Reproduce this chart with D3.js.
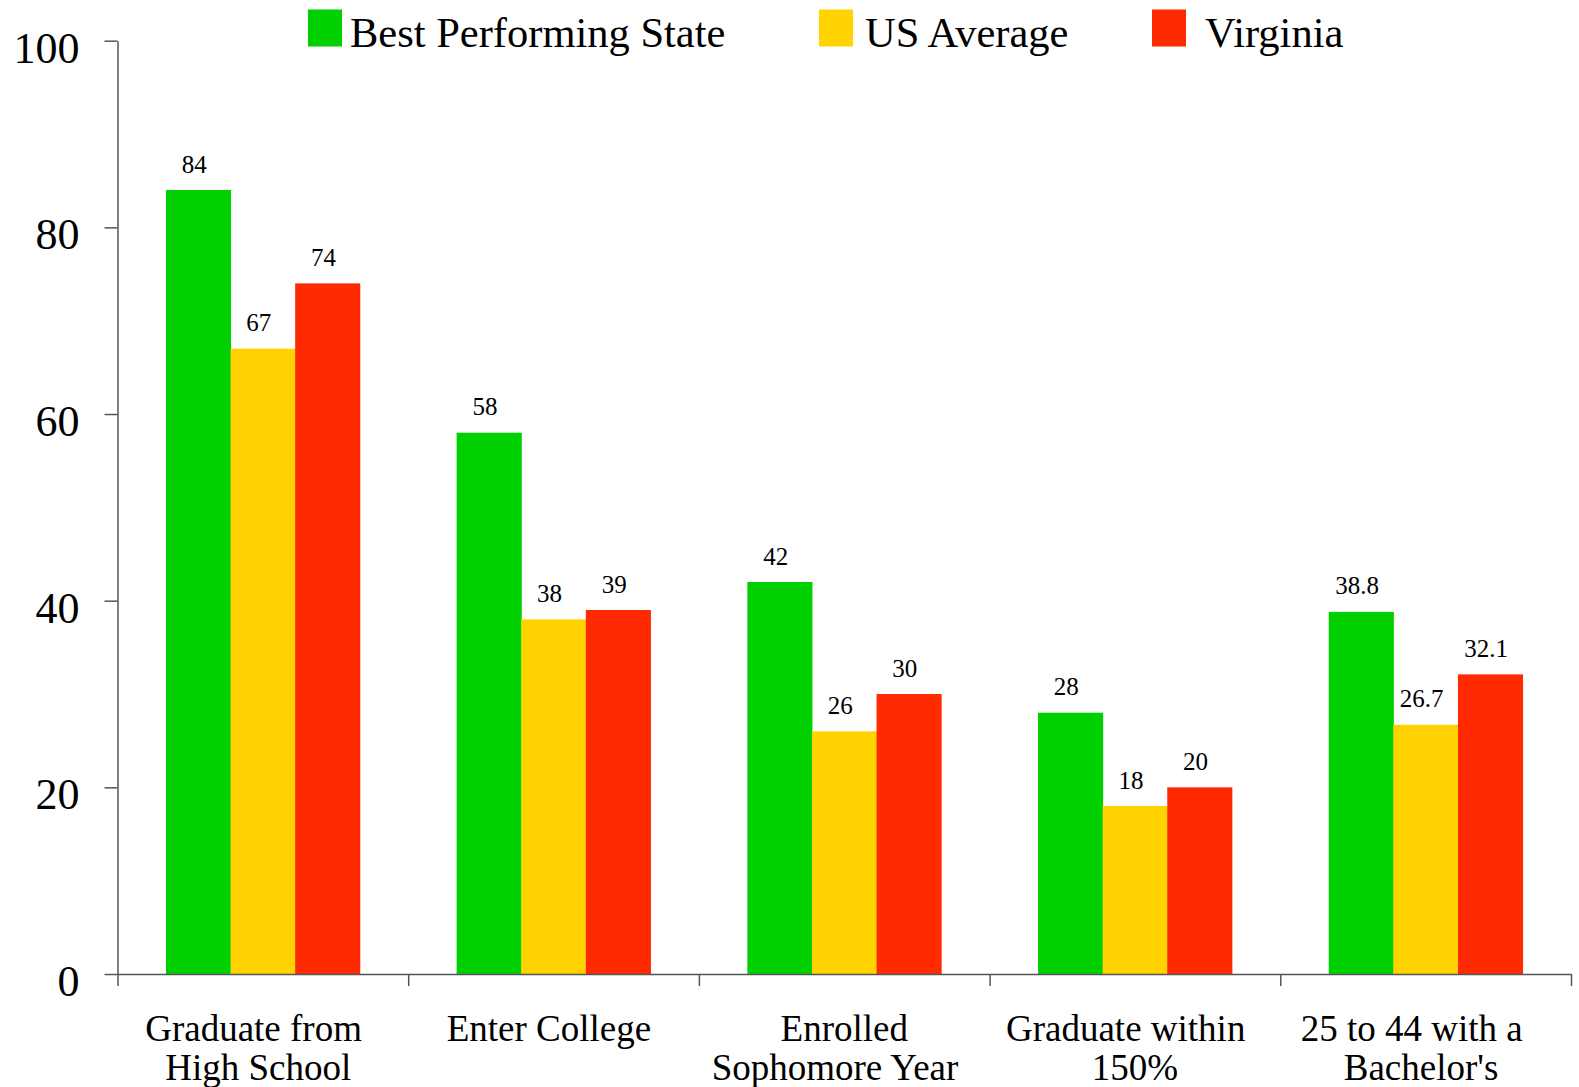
<!DOCTYPE html>
<html>
<head>
<meta charset="utf-8">
<script src="https://cdn.jsdelivr.net/npm/d3@7"></script>
<style>
  body { margin: 0; background: #fff; }
  text { font-family: "Liberation Serif", "Times New Roman", serif; fill: #000; }
  .cat text { white-space: pre; }
</style>
</head>
<body>
<svg id="chart"></svg>
<script>
// category labels, one array per label line (trailing spaces kept as in the source)
const categories = [
  ["Graduate from  ", "High School "],
  ["Enter College "],
  ["Enrolled", "Sophomore Year  "],
  ["Graduate within  ", "150%"],
  ["25 to 44 with a   ", "Bachelor's "]
]
const seriesNames = ["Best Performing State", "US Average", "Virginia"]
const bestState = [84, 58, 42, 28, 38.8]
const usAverage = [67, 38, 26, 18, 26.7]
const virginia = [74, 39, 30, 20, 32.1]
const yTicks = [0, 20, 40, 60, 80, 100]

const colors = ["#00d000", "#ffd200", "#ff2a00"]
const series = [bestState, usAverage, virginia]

const chart = {
  width: 1579,
  height: 1087,
  left: 117.5,
  right: 1571,
  top: 40.7,
  base: 974,
  axisColor: "#555"
}

const svg = d3.select("#chart")
  .attr("width", chart.width)
  .attr("height", chart.height)

const y = d3.scaleLinear().domain([0, 100]).range([chart.base, chart.top])
const x0 = d3.scaleBand()
  .domain(d3.range(categories.length))
  .range([chart.left, chart.right])
  .padding(0)
const step = x0.step()
const x1 = d3.scaleBand()
  .domain(d3.range(series.length))
  .range([step / 6, step * 5 / 6])
  .padding(0)

// bars
const groups = svg.append("g")
  .selectAll("g.group")
  .data(categories.map((c, i) => i))
  .join("g")
  .classed("group", true)
  .attr("transform", i => `translate(${x0(i)},0)`)

const cells = groups.selectAll("g.bar")
  .data(i => series.map((s, j) => ({ cat: i, s: j, v: s[i] })))
  .join("g")
  .classed("bar", true)

cells.append("rect")
  .attr("x", d => x1(d.s))
  .attr("width", x1.bandwidth() + 0.5)
  .attr("y", d => y(d.v))
  .attr("height", d => y(0) - y(d.v))
  .attr("fill", d => colors[d.s])

cells.append("text")
  .attr("x", d => x1(d.s) + x1.bandwidth() / 2)
  .attr("dx", -4)
  .attr("y", d => y(d.v) - 17.5)
  .attr("text-anchor", "middle")
  .style("font-size", "25px")
  .text(d => d.v)

// y axis
const yAxis = svg.append("g")
  .attr("transform", `translate(${chart.left},0)`)
  .call(d3.axisLeft(y).tickValues(yTicks).tickSize(13).tickSizeOuter(0))
yAxis.select(".domain").attr("stroke", chart.axisColor).attr("stroke-width", 1.5)
yAxis.selectAll(".tick line").attr("stroke", chart.axisColor).attr("stroke-width", 1.5)
yAxis.selectAll(".tick text")
  .attr("x", -38)
  .attr("dy", "0.49em")
  .attr("fill", "#000")
  .style("font-size", "44px")
  .style("font-family", '"Liberation Serif", "Times New Roman", serif')

// x axis: ticks on category boundaries
const xb = d3.scaleLinear().domain([0, categories.length]).range([chart.left, chart.right])
const xAxis = svg.append("g")
  .attr("transform", `translate(0,${chart.base})`)
  .call(d3.axisBottom(xb).tickValues(d3.range(categories.length + 1)).tickSize(12).tickSizeOuter(0).tickFormat(""))
xAxis.select(".domain").attr("stroke", chart.axisColor).attr("stroke-width", 1.5)
xAxis.selectAll(".tick line").attr("stroke", chart.axisColor).attr("stroke-width", 1.5)

// category labels
svg.append("g")
  .classed("cat", true)
  .selectAll("text")
  .data(categories)
  .join("text")
  .attr("text-anchor", "middle")
  .style("font-size", "37px")
  .each(function(lines, i) {
    d3.select(this).selectAll("tspan")
      .data(lines)
      .join("tspan")
      .attr("x", x0(i) + step / 2)
      .attr("y", (d, k) => 1041 + k * 39)
      .text(d => d)
  })

// legend
const legendRectX = [308, 819, 1152]
const legendTextX = [350, 865, 1205]
const legend = svg.append("g")
  .selectAll("g")
  .data(seriesNames)
  .join("g")
legend.append("rect")
  .attr("x", (d, i) => legendRectX[i])
  .attr("y", 9.5)
  .attr("width", 34)
  .attr("height", 37)
  .attr("fill", (d, i) => colors[i])
legend.append("text")
  .attr("x", (d, i) => legendTextX[i])
  .attr("y", 47)
  .style("font-size", "42.5px")
  .text(d => d)
</script>
</body>
</html>
